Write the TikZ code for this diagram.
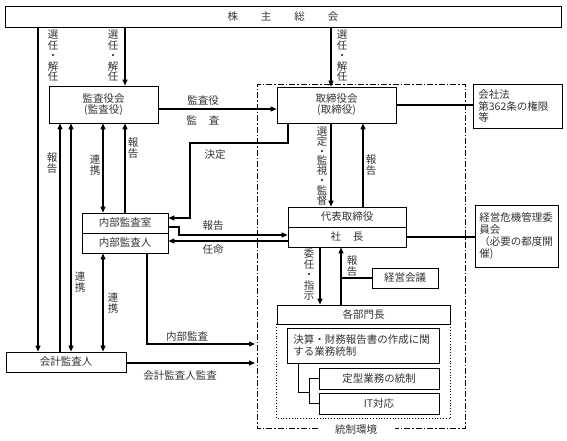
\documentclass[tikz,border=0pt]{standalone}
\usepackage{fontspec}
\setmainfont{Noto Sans CJK JP}
\usetikzlibrary{arrows.meta}
\begin{document}
\begin{tikzpicture}[x=1pt,y=-1pt,
  every node/.style={text=black!80, font=\fontsize{10.5}{11}\selectfont},
  box/.style={draw, line width=0.8pt, inner sep=0pt, align=center},
  conn/.style={line width=1.1pt},
  arr/.style={conn,-{Triangle[length=6pt,width=5pt]}},
  darr/.style={conn,{Triangle[length=6pt,width=5pt]}-{Triangle[length=6pt,width=5pt]}},
  lbl/.style={inner sep=0pt},
  vlbl/.style={inner sep=0pt, align=center, font=\fontsize{10.5}{10.5}\selectfont},
  ctrlframe/.style={line width=0.8pt, dash pattern=on 6pt off 2pt on 1.5pt off 2pt},
]
\useasboundingbox (0,0) rectangle (567,440);

% column / row helpers
\foreach \n/\v in {38/38,60/60,71/71,103/103,125/125,147/147,179/179,190/190,288/288,298/298,309/309,320/320,331/331,341/341,363/363,fl/255}
  \coordinate (c\n) at (\v,0);
\foreach \n in {109,143,218,227,235,241,344,363,392}
  \coordinate (r\n) at (0,\n);

% boxes
\node[box, minimum width=556pt, minimum height=21pt] (sh) at (283,16.5) {株\hspace{23pt}主\hspace{23pt}総\hspace{23pt}会};
\node[box, minimum width=109pt, minimum height=37pt] (kansa) at (103.5,104.5) {監査役会\\(監査役)};
\node[box, minimum width=119pt, minimum height=36pt] (tori) at (336.5,105) {取締役会\\(取締役)};
\node[box, anchor=north west, align=left, text width=79pt, inner xsep=5pt, minimum height=44pt, font=\fontsize{10.5}{11.5}\selectfont] (kaisha) at (473,84) {会社法\\第362条の権限\\等};
\node[box, minimum width=86pt, minimum height=20pt] (nbs) at (125,223) {内部監査室};
\node[box, minimum width=86pt, minimum height=20pt] (nbn) at (125,243) {内部監査人};
\node[box, minimum width=118pt, minimum height=20pt] (daihyo) at (347,217) {代表取締役};
\node[box, minimum width=118pt, minimum height=20pt] (shacho) at (347,237) {社\hspace{12pt}長};
\node[box, anchor=north west, align=left, text width=75pt, inner xsep=4pt, minimum height=62pt, font=\fontsize{10.5}{12}\selectfont] (kiki) at (475,205) {経営危機管理委\\員会\\（必要の都度開\\催)};
\node[box, minimum width=66pt, minimum height=20pt] (keiei) at (405,278) {経営会議};
\node[box, minimum width=173pt, minimum height=19pt] (kakubu) at (363.5,314.5) {各部門長};
\node[box, anchor=north west, align=left, text width=140pt, inner xsep=6pt, minimum height=35pt, font=\fontsize{10.5}{12}\selectfont] (kessan) at (287,328) {決算・財務報告書の作成に関\\する業務統制};
\node[box, minimum width=120pt, minimum height=21pt] (teikei) at (379,378.5) {定型業務の統制};
\node[box, minimum width=120pt, minimum height=21pt] (it) at (379,403.5) {IT対応};
\node[box, minimum width=120pt, minimum height=20pt] (kaikei) at (66,362) {会計監査人};

% frames
\draw[dotted, line width=0.8pt] (kakubu.south west) -- ++(0,94) -| (kakubu.south east);
\draw[ctrlframe] (318,428) -- (257,428) -- (257,84) -- (465,84) -- (465,428) -- (395,428);
\node[lbl] (tosei) at (356,430) {統制環境};

% connectors from 株主総会
\draw[arr] (c38 |- sh.south) -- (c38 |- kaikei.north);
\draw[arr] (c125 |- sh.south) -- (c125 |- kansa.north);
\draw[arr] (c331 |- sh.south) -- (c331 |- tori.north);

% 監査役会 -> 取締役会
\draw[arr] (kansa.east |- r109) -- (tori.west |- r109);
% 決定
\draw[arr] (c288 |- tori.south) -- (c288 |- r143) -- (c190 |- r143) -- (c190 |- r218) -- (nbs.east |- r218);
% 報告 / 任命
\draw[arr] (nbs.east |- r227) -- (c179 |- r227) -- (c179 |- r235) -- (shacho.west |- r235);
\draw[arr] (shacho.west |- r241) -- (nbn.east |- r241);
% 内部監査 / 会計監査人監査
\draw[arr] (c147 |- nbn.south) -- (c147 |- r344) -- (cfl |- r344);
\draw[arr] (kaikei.east |- r363) -- (cfl |- r363);

% left verticals
\draw[arr] (c60 |- kaikei.north) -- (c60 |- kansa.south);
\draw[darr] (c71 |- kansa.south) -- (c71 |- kaikei.north);
\draw[darr] (c103 |- kansa.south) -- (c103 |- nbs.north);
\draw[darr] (c103 |- nbn.south) -- (c103 |- kaikei.north);
\draw[arr] (c125 |- nbs.north) -- (c125 |- kansa.south);

% right side
\draw[conn] (tori.east) -- (kaisha.west |- tori.east);
\draw[arr] (c331 |- tori.south) -- (c331 |- daihyo.north);
\draw[arr] (c363 |- daihyo.north) -- (c363 |- tori.south);
\draw[conn] (shacho.east) -- (kiki.west |- shacho.east);
\draw[arr] (c320 |- shacho.south) -- (c320 |- kakubu.north);
\draw[arr] (c341 |- kakubu.north) -- (c341 |- shacho.south);
\draw[conn] (keiei.west) -- (c341 |- keiei.west);

% 業務統制 bracket
\draw[conn, line width=0.9pt] (c298 |- kessan.south) -- (c298 |- r392) -- (c309 |- r392);
\draw[conn, line width=0.9pt] (teikei.west) -- (c309 |- teikei.west) -- (c309 |- it.west) -- (it.west);

% labels
\node[vlbl] (l1) at (53,56) {選\\任\\・\\解\\任};
\node[vlbl] (l2) at (113,56) {選\\任\\・\\解\\任};
\node[vlbl] (l3) at (342,56) {選\\任\\・\\解\\任};
\node[lbl] (l4) at (203,101) {監査役};
\node[lbl] (l5) at (203,120) {監\hspace{12pt}査};
\node[vlbl] (l6) at (52,163) {報\\告};
\node[vlbl] (l7) at (95,165) {連\\携};
\node[vlbl] (l8) at (133,148) {報\\告};
\node[lbl] (l9) at (215,155) {決定};
\node[lbl] (l10) at (213,226) {報告};
\node[lbl] (l11) at (213,250) {任命};
\node[vlbl] (l12) at (80,282) {連\\携};
\node[vlbl] (l13) at (113,303) {連\\携};
\node[lbl] (l14) at (187,337) {内部監査};
\node[lbl] (l15) at (180,376) {会計監査人監査};
\node[vlbl, font=\fontsize{10.5}{9.8}\selectfont] (l16) at (322,166) {選\\定\\・\\監\\視\\・\\監\\督};
\node[vlbl] (l17) at (371,165) {報\\告};
\node[vlbl] (l18) at (309,275) {委\\任\\・\\指\\示};
\node[vlbl] (l19) at (352,266) {報\\告};
\end{tikzpicture}
\end{document}
